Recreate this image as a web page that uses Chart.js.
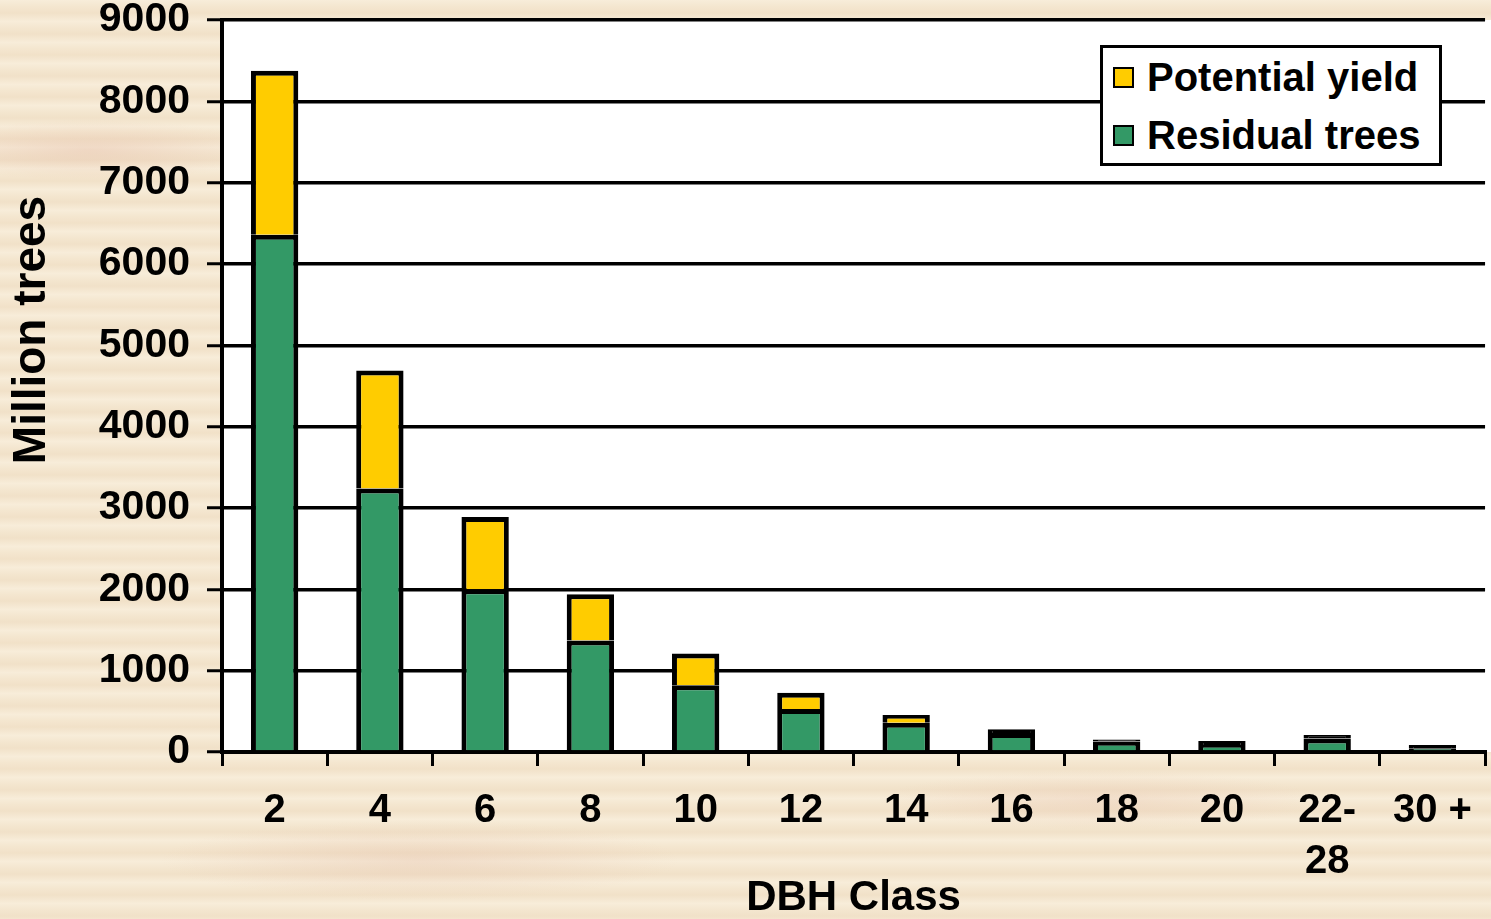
<!DOCTYPE html>
<html>
<head>
<meta charset="utf-8">
<title>DBH Class</title>
<script src="https://cdn.jsdelivr.net/npm/chart.js@4"></script>
<style>
    html, body {
        margin: 0;
        padding: 0;
    }
    body {
        width: 1491px;
        height: 919px;
        overflow: hidden;
        /* parchment-like backdrop */
        background-color: #f4e6cf;
        background-image:
            radial-gradient(ellipse 180px 30px at 90px 150px, rgba(226, 180, 160, 0.35), rgba(226, 180, 160, 0)),
            radial-gradient(ellipse 260px 40px at 420px 860px, rgba(226, 185, 165, 0.3), rgba(226, 185, 165, 0)),
            radial-gradient(ellipse 220px 30px at 1100px 800px, rgba(230, 190, 170, 0.3), rgba(230, 190, 170, 0)),
            repeating-linear-gradient(180deg, rgba(255, 250, 238, 0.35) 0px, rgba(255, 250, 238, 0) 7px, rgba(232, 210, 180, 0.25) 13px, rgba(255, 250, 238, 0.3) 21px);
    }
    #wrap {
        position: relative;
        width: 1491px;
        height: 919px;
    }
    #legend {
        position: absolute;
        left: 1100px;
        top: 45px;
        width: 336px;
        height: 115px;
        border: 3px solid #000;
        background: #fff;
        font-family: 'Liberation Sans', Arial, sans-serif;
        font-weight: bold;
        font-size: 40px;
        color: #000;
    }
    .item {
        display: flex;
        align-items: center;
        height: 58px;
        padding-left: 10px;
        white-space: nowrap;
    }
    .swatch {
        width: 17px;
        height: 17px;
        border: 2px solid #000;
        margin-right: 13px;
        flex: none;
    }
</style>
</head>
<body>
<div id="wrap">
    <canvas id="chart"></canvas>
    <div id="legend"></div>
</div>
<script>
// 数据
const categories = ['2', '4', '6', '8', '10', '12', '14', '16', '18', '20', ['22-', '28'], '30 +'];
const residualTrees = [6360, 3240, 2000, 1370, 820, 530, 360, 235, 130, 85, 165, 40];
const potentialYield = [2015, 1450, 890, 570, 390, 200, 95, 45, 25, 50, 45, 45];
const yTicks = [0, 1000, 2000, 3000, 4000, 5000, 6000, 7000, 8000, 9000];

const GREEN = '#339966';
const YELLOW = '#ffcc00';
const FONT = "'Liberation Sans', Arial, sans-serif";

// 白色绘图区 + 纵轴标题
const plotBackground = {
    id: 'plotBackground',
    beforeDraw(chart) {
        const { ctx, chartArea } = chart;
        ctx.save();
        ctx.fillStyle = '#fff';
        ctx.fillRect(chartArea.left, chartArea.top, chart.width - chartArea.left, chartArea.bottom - chartArea.top);
        ctx.restore();
    },
    afterDraw(chart) {
        const { ctx } = chart;
        ctx.save();
        ctx.translate(32, 330);
        ctx.rotate(-Math.PI / 2);
        ctx.font = `bold 46px ${FONT}`;
        ctx.fillStyle = '#000';
        ctx.textAlign = 'center';
        ctx.textBaseline = 'middle';
        ctx.fillText('Million trees', 0, 0);
        ctx.restore();
    }
};

const ctx = document.getElementById('chart').getContext('2d');
new Chart(ctx, {
    type: 'bar',
    data: {
        labels: categories,
        datasets: [
            {
                label: 'Residual trees',
                data: residualTrees,
                backgroundColor: GREEN,
                borderColor: '#000',
                borderWidth: 5,
                barPercentage: 0.45,
                categoryPercentage: 1
            },
            {
                label: 'Potential yield',
                data: potentialYield,
                // very thin segments disappear under the outline in the original
                backgroundColor: c => (c.raw < 60 ? '#000' : YELLOW),
                borderColor: '#000',
                borderWidth: 5,
                borderSkipped: 'bottom',
                barPercentage: 0.45,
                categoryPercentage: 1
            }
        ]
    },
    options: {
        responsive: true,
        maintainAspectRatio: false,
        animation: false,
        layout: { padding: { top: 20, right: 2, left: 0, bottom: 0 } },
        plugins: {
            legend: { display: false },
            tooltip: { enabled: false }
        },
        scales: {
            x: {
                stacked: true,
                afterFit(scale) { scale.height = 167; },
                border: { display: true, color: '#000', width: 4 },
                grid: {
                    drawOnChartArea: false,
                    color: '#000',
                    lineWidth: 3,
                    tickLength: 14
                },
                ticks: {
                    color: '#000',
                    padding: 19,
                    maxRotation: 0,
                    autoSkip: false,
                    font: { family: FONT, size: 40, weight: 'bold', lineHeight: 1.28 }
                },
                title: {
                    display: true,
                    text: 'DBH Class',
                    color: '#000',
                    padding: { top: 0, bottom: 0 },
                    font: { family: FONT, size: 42, weight: 'bold', lineHeight: 1 }
                }
            },
            y: {
                stacked: true,
                min: 0,
                max: 9000,
                afterFit(scale) {
                    scale.width = 222;
                    scale.paddingTop = 0;
                    scale.paddingBottom = 0;
                },
                afterBuildTicks(scale) {
                    scale.ticks = yTicks.map(v => ({ value: v }));
                },
                border: { display: true, color: '#000', width: 4 },
                grid: {
                    color: '#000',
                    lineWidth: 3.5,
                    tickLength: 15,
                    tickColor: '#000',
                    tickWidth: 3
                },
                ticks: {
                    color: '#000',
                    padding: 17,
                    callback: v => String(v),
                    font: { family: FONT, size: 41, weight: 'bold' }
                }
            }
        }
    },
    plugins: [plotBackground]
});

// 图例
const legendItems = [
    { text: 'Potential yield', color: YELLOW },
    { text: 'Residual trees', color: GREEN }
];
const legendBox = document.getElementById('legend');
legendItems.forEach(item => {
    const row = document.createElement('div');
    row.className = 'item';
    const sw = document.createElement('span');
    sw.className = 'swatch';
    sw.style.backgroundColor = item.color;
    const label = document.createElement('span');
    label.textContent = item.text;
    row.appendChild(sw);
    row.appendChild(label);
    legendBox.appendChild(row);
});
</script>
</body>
</html>
